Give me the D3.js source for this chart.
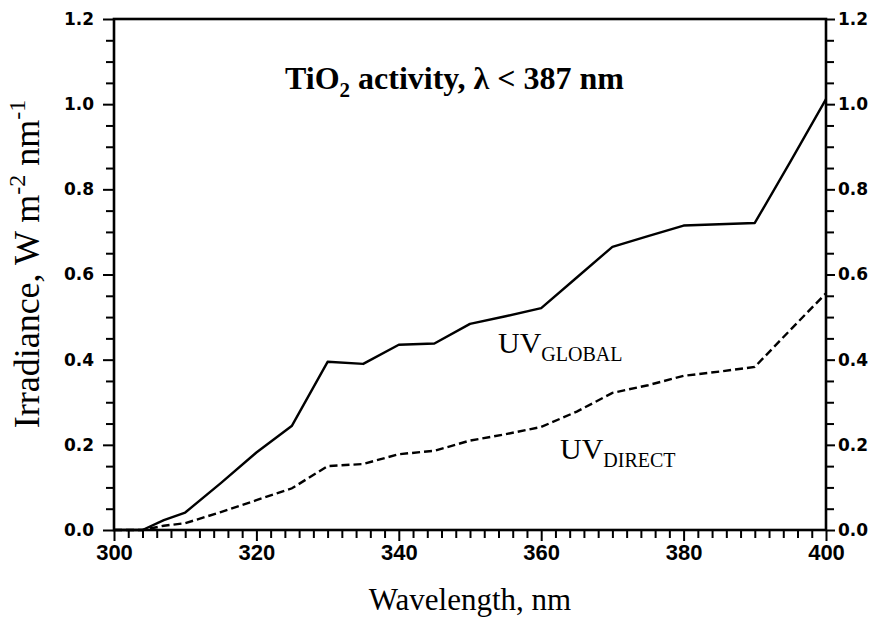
<!DOCTYPE html>
<html>
<head>
<meta charset="utf-8">
<script src="https://cdn.jsdelivr.net/npm/d3@7"></script>
<style>
  body { margin: 0; background: #fff; }
  svg { display: block; }
  .tick-y text { font-family: "DejaVu Sans", sans-serif; font-weight: bold; font-size: 17px; }
  .tick-x text { font-family: "Liberation Sans", Arial, sans-serif; font-weight: bold; font-size: 22px; }
  .serif { font-family: "Liberation Serif", "Times New Roman", serif; }
</style>
</head>
<body>
<div id="chart"></div>
<script>
// wavelengths (nm) and irradiance (W m-2 nm-1)
const wavelength = [300, 304, 307, 310, 315, 320, 325, 330, 335, 340, 345, 350, 355, 360, 365, 370, 375, 380, 385, 390, 395, 400];
const uvGlobal   = [0, 0, 0.023, 0.041, 0.11, 0.182, 0.245, 0.395, 0.390, 0.435, 0.438, 0.484, 0.502, 0.521, 0.593, 0.665, 0.690, 0.715, 0.718, 0.721, 0.865, 1.012];
const uvDirect   = [0, 0, 0.010, 0.016, 0.042, 0.070, 0.098, 0.150, 0.155, 0.178, 0.186, 0.210, 0.225, 0.242, 0.278, 0.322, 0.340, 0.362, 0.372, 0.383, 0.470, 0.556];
const xTicks = [300, 320, 340, 360, 380, 400];
const yTicks = [0, 0.2, 0.4, 0.6, 0.8, 1.0, 1.2];

const width = 874, height = 619;
const margin = {top: 19, right: 48, bottom: 89, left: 114};

const svg = d3.select('#chart').append('svg')
    .attr('width', width)
    .attr('height', height);

const x = d3.scaleLinear().domain([300, 400]).range([margin.left, width - margin.right]);
const y = d3.scaleLinear().domain([0, 1.2]).range([height - margin.bottom, margin.top]);

// minor ticks every 2 nm and every 0.05
const xMinor = d3.range(300, 401, 2).filter(d => d % 20 !== 0);
const yMinor = d3.range(0, 1.2001, 0.05).map(d => +d.toFixed(2)).filter(d => Math.abs(d * 5 - Math.round(d * 5)) > 1e-6);

const axisStyle = g => {
  g.select('.domain').remove();
  g.selectAll('line').attr('stroke', '#000').attr('stroke-width', 2);
};

// bottom axis
svg.append('g')
    .attr('class', 'tick-x')
    .attr('transform', `translate(0,${y(0)})`)
    .call(d3.axisBottom(x).tickValues(xTicks).tickSize(11).tickPadding(3).tickFormat(d3.format('d')))
    .call(axisStyle);
svg.append('g')
    .attr('transform', `translate(0,${y(0)})`)
    .call(d3.axisBottom(x).tickValues(xMinor).tickSize(8).tickFormat(''))
    .call(axisStyle);

// left axis
svg.append('g')
    .attr('class', 'tick-y')
    .attr('transform', `translate(${x(300)},0)`)
    .call(d3.axisLeft(y).tickValues(yTicks).tickSize(11).tickPadding(9).tickFormat(d3.format('.1f')))
    .call(axisStyle);
svg.append('g')
    .attr('transform', `translate(${x(300)},0)`)
    .call(d3.axisLeft(y).tickValues(yMinor).tickSize(8).tickFormat(''))
    .call(axisStyle);

// right axis
svg.append('g')
    .attr('class', 'tick-y')
    .attr('transform', `translate(${x(400)},0)`)
    .call(d3.axisRight(y).tickValues(yTicks).tickSize(9).tickPadding(3).tickFormat(d3.format('.1f')))
    .call(axisStyle);
svg.append('g')
    .attr('transform', `translate(${x(400)},0)`)
    .call(d3.axisRight(y).tickValues(yMinor).tickSize(8).tickFormat(''))
    .call(axisStyle);

// frame
svg.append('rect')
    .attr('x', x(300)).attr('y', y(1.2))
    .attr('width', x(400) - x(300)).attr('height', y(0) - y(1.2))
    .attr('fill', 'none').attr('stroke', '#000').attr('stroke-width', 2.6);

// curves
const line = d3.line()
    .x((d, i) => x(wavelength[i]))
    .y(d => y(d));

svg.append('path')
    .datum(uvGlobal)
    .attr('d', line)
    .attr('fill', 'none').attr('stroke', '#000').attr('stroke-width', 2.4)
    .attr('stroke-linejoin', 'round');

svg.append('path')
    .datum(uvDirect)
    .attr('d', line)
    .attr('fill', 'none').attr('stroke', '#000').attr('stroke-width', 2.4)
    .attr('stroke-dasharray', '8,4');

// title
const title = svg.append('text')
    .attr('class', 'serif')
    .attr('x', 285).attr('y', 89)
    .attr('font-size', 32).attr('font-weight', 'bold');
title.append('tspan').text('TiO');
title.append('tspan').attr('font-size', 21).attr('dy', 8).text('2');
title.append('tspan').attr('dy', -8).text(' activity, λ < 387 nm');

// series labels
const seriesLabel = (lx, ly, main, sub) => {
  const t = svg.append('text')
      .attr('class', 'serif')
      .attr('x', lx).attr('y', ly)
      .attr('font-size', 30);
  t.append('tspan').text(main);
  t.append('tspan').attr('font-size', 20).attr('dy', 8).text(sub);
};
seriesLabel(498, 353, 'UV', 'GLOBAL');
seriesLabel(560, 459, 'UV', 'DIRECT');

// axis titles
svg.append('text')
    .attr('class', 'serif')
    .attr('x', (x(300) + x(400)) / 2).attr('y', 610)
    .attr('text-anchor', 'middle')
    .attr('font-size', 31)
    .text('Wavelength, nm');

const yTitle = svg.append('text')
    .attr('class', 'serif')
    .attr('transform', 'translate(39,264) rotate(-90)')
    .attr('text-anchor', 'middle')
    .attr('font-size', 36);
yTitle.append('tspan').text('Irradiance, W m');
yTitle.append('tspan').attr('font-size', 24).attr('dy', -14).text('-2');
yTitle.append('tspan').attr('dy', 14).text(' nm');
yTitle.append('tspan').attr('font-size', 24).attr('dy', -14).text('-1');
</script>
</body>
</html>
